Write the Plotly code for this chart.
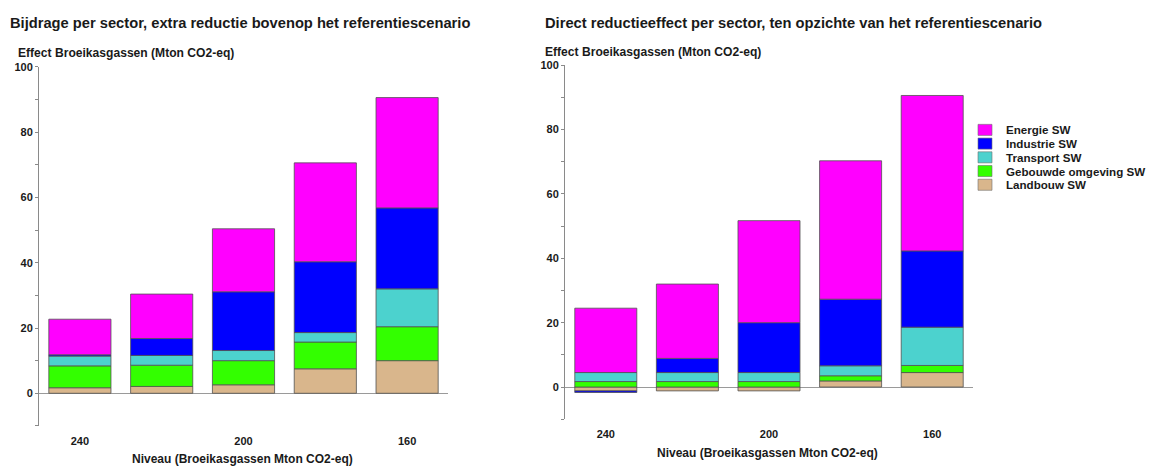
import plotly.graph_objects as go

W, H = 1155, 466

levels = ["240", "220", "200", "180", "160"]
tick_labels = ["240", "200", "160"]
sectors = ["Landbouw SW", "Gebouwde omgeving SW", "Transport SW", "Industrie SW", "Energie SW"]
colors = ["#D9B68C", "#33FF00", "#4CD2CE", "#0000FF", "#FF00FF"]

# Left chart: extra reduction on top of reference scenario
left_landbouw = [1.7, 2.1, 2.6, 7.5, 10.0]
left_gebouwd = [6.7, 6.5, 7.4, 8.2, 10.4]
left_transport = [3.0, 3.0, 3.1, 2.9, 11.6]
left_industrie = [0.4, 5.2, 18.0, 21.7, 24.8]
left_energie = [10.9, 13.6, 19.3, 30.3, 33.8]

# Right chart: direct reduction effect vs reference scenario
right_landbouw = [-1.2, -1.2, -1.2, 1.9, 4.5]
right_gebouwd = [1.7, 1.7, 1.7, 1.6, 2.2]
right_transport = [2.8, 2.8, 2.8, 3.1, 11.9]
right_industrie = [-0.5, 4.4, 15.5, 20.7, 23.7]
right_energie = [20.0, 23.1, 31.7, 43.0, 48.3]

left_series = [left_landbouw, left_gebouwd, left_transport, left_industrie, left_energie]
right_series = [right_landbouw, right_gebouwd, right_transport, right_industrie, right_energie]

FONT = "Liberation Sans, Arial, sans-serif"
TXT = "#1a1a1a"
EDGE = "#505050"

fig = go.Figure()
for name, col, vals in zip(sectors, colors, left_series):
    fig.add_trace(go.Bar(x=levels, y=vals, name=name, marker=dict(color=col, line=dict(color=EDGE, width=0.8)),
                         xaxis="x", yaxis="y", showlegend=False))
for name, col, vals in zip(sectors, colors, right_series):
    fig.add_trace(go.Bar(x=levels, y=vals, name=name, marker=dict(color=col, line=dict(color=EDGE, width=0.8)),
                         xaxis="x2", yaxis="y2", showlegend=False))

def px_x(p):
    return p / W

def px_y(p):
    return 1 - p / H

TICKF = dict(family=FONT, size=11, color=TXT, weight="bold")

yax = dict(range=[-10, 100], dtick=20, tick0=0, showgrid=False, zeroline=True, zerolinecolor="#9a9a9a",
           zerolinewidth=1, showline=True, linecolor="#8a8a8a", linewidth=1, ticks="outside", ticklen=3,
           tickcolor="#8a8a8a", tickfont=TICKF,
           minor=dict(dtick=10, tick0=0, ticks="outside", ticklen=3, tickcolor="#8a8a8a"), fixedrange=True)
xax = dict(type="category", range=[-0.5, 4.5], tickvals=tick_labels, ticktext=tick_labels, showgrid=False,
           showline=False, zeroline=False, ticks="outside", ticklen=5, tickcolor="rgba(0,0,0,0)",
           tickfont=TICKF, fixedrange=True)

fig.update_layout(
    width=W, height=H, margin=dict(l=0, r=0, t=0, b=0),
    paper_bgcolor="white", plot_bgcolor="white",
    barmode="relative", bargap=0.24, showlegend=False,
    font=dict(family=FONT, color=TXT),
    xaxis=dict(xax, domain=[px_x(39), px_x(448)], anchor="y"),
    yaxis=dict(yax, domain=[px_y(425.4), px_y(61.7)], anchor="x"),
    xaxis2=dict(xax, domain=[px_x(565), px_x(973)], anchor="y2"),
    yaxis2=dict(yax, domain=[px_y(418.6), px_y(60)], anchor="x2"),
)

ann = []
def text(x, y, s, size, xanchor="left"):
    ann.append(dict(x=px_x(x), y=px_y(y), xref="paper", yref="paper", text=s, showarrow=False,
                    xanchor=xanchor, yanchor="middle",
                    font=dict(family=FONT, size=size, color=TXT, weight="bold")))

text(8, 17.5, "Bijdrage per sector, extra reductie bovenop het referentiescenario", 14.7)
text(543, 17.5, "Direct reductieeffect per sector, ten opzichte van het referentiescenario", 14.7)
text(16, 47.5, "Effect Broeikasgassen (Mton CO2-eq)", 12.1)
text(543, 46.5, "Effect Broeikasgassen (Mton CO2-eq)", 12.1)
text(242, 459, "Niveau (Broeikasgassen Mton CO2-eq)", 12, "center")
text(767, 453, "Niveau (Broeikasgassen Mton CO2-eq)", 12, "center")

# Legend (top to bottom: Energie ... Landbouw)
shapes = []
for i, (name, col) in enumerate(zip(sectors[::-1], colors[::-1])):
    cy = 125.5 + i * 13.9
    shapes.append(dict(type="rect", xref="paper", yref="paper", x0=px_x(978), x1=px_x(992),
                       y0=px_y(cy + 5.6), y1=px_y(cy - 5.6), fillcolor=col, line=dict(color="#707070", width=0.6)))
    text(1004, cy, name, 11.6)

fig.update_layout(annotations=ann, shapes=shapes)

fig.write_html("out.html", config={"displayModeBar": False},
               post_script="document.body.style.margin='0';document.body.style.overflow='hidden';")
